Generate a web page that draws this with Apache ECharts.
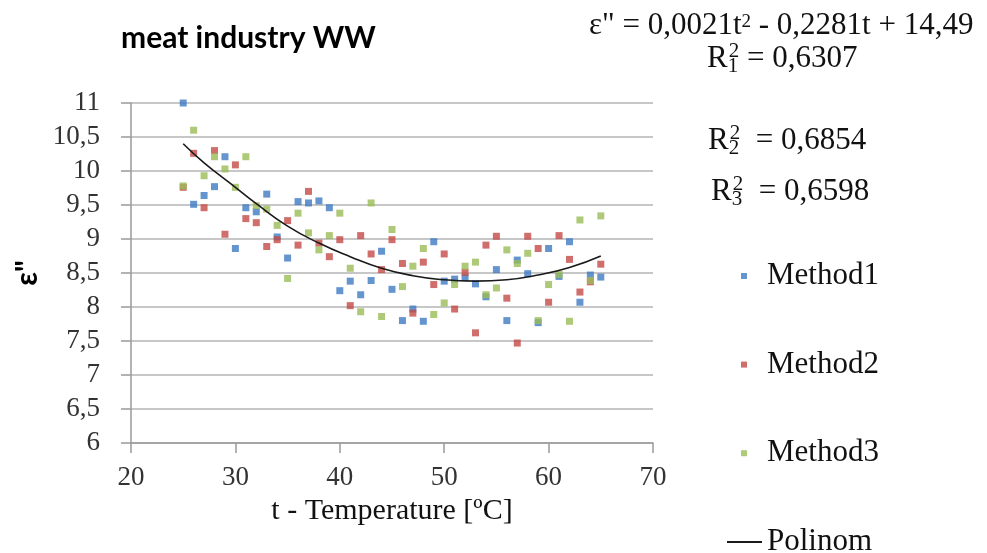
<!DOCTYPE html>
<html><head><meta charset="utf-8">
<script src="https://cdn.jsdelivr.net/npm/echarts@6/dist/echarts.min.js"></script>
<style>html,body{margin:0;padding:0;background:#fff}#c{width:987px;height:553px}</style>
</head><body><div id="c"></div>
<script>
const temperatures = [25,26,27,28,29,30,31,32,33,34,35,36,37,38,39,40,41,42,43,44,45,46,47,48,49,50,51,52,53,54,55,56,57,58,59,60,61,62,63,64,65];
const method1 = [11.0,9.51,9.64,9.77,10.21,8.86,9.46,9.40,9.66,9.03,8.72,9.55,9.53,9.56,9.46,8.24,8.38,8.18,8.39,8.82,8.26,7.80,7.97,7.79,8.96,8.38,8.41,8.43,8.34,8.15,8.55,7.80,8.69,8.49,7.77,8.86,8.45,8.96,8.07,8.47,8.44];
const method2 = [9.76,10.26,9.46,10.30,9.07,10.09,9.30,9.24,8.89,8.99,9.27,8.91,9.70,8.94,8.74,8.99,8.02,9.05,8.78,8.55,8.99,8.64,7.91,8.66,8.33,8.78,7.97,8.51,7.62,8.91,9.04,8.13,7.47,9.04,8.86,8.07,9.05,8.70,8.22,8.37,8.63];
const method3 = [9.78,10.60,9.93,10.21,10.03,9.76,10.21,9.49,9.44,9.20,8.42,9.38,9.09,8.84,9.05,9.38,8.57,7.93,9.53,7.86,9.14,8.30,8.60,8.86,7.89,8.06,8.33,8.60,8.66,8.18,8.28,8.84,8.64,8.79,7.80,8.33,8.48,7.79,9.28,8.39,9.34];
const polinomT = [25,27,30,32,35,38,41,44,47,50,53,56,59,62,65];
const polinomV = [10.40,10.12,9.76,9.52,9.19,8.94,8.74,8.57,8.46,8.40,8.38,8.40,8.47,8.58,8.75];
const seriesNames = ['Method1','Method2','Method3','Polinom'];
const xTicks = [20,30,40,50,60,70];
const yTicks = [6,6.5,7,7.5,8,8.5,9,9.5,10,10.5,11];

const SERIF = '"Liberation Serif", "DejaVu Serif", serif';
const SANS = 'Lato, "Open Sans", sans-serif';
const colors = ['#3F7AC2','#C44A47','#9ABC56'];

const pair = (xs, ys) => xs.map((x, i) => [x, ys[i]]);
const base = {fontFamily: SERIF, fontWeight: 'normal', color: '#111'};
const richBase = {
  n: Object.assign({}, base, {fontSize: 31, lineHeight: 38}),
  supE: Object.assign({}, base, {fontSize: 19, padding: [0,0,8,0]}),
  sup: Object.assign({}, base, {fontSize: 21, padding: [0,0,16,0]}),
  sub: Object.assign({}, base, {fontSize: 21, padding: [15,0,0,0], width: 1})
};
const eqStyle = {fontWeight: 'normal', rich: richBase};

const chart = echarts.init(document.getElementById('c'), null, {renderer: 'canvas'});
chart.setOption({
  animation: false,
  backgroundColor: '#fff',
  title: [
    {text: 'meat industry WW', left: 121, top: 23, padding: 0,
     textStyle: {fontFamily: SANS, fontWeight: 'bold', fontSize: 30, color: '#000'}},
    {text: '{n|ε" = 0,0021t}{supE|2}{n| - 0,2281t + 14,49}', left: 589, top: 7, padding: 0, textStyle: eqStyle},
    {text: '{n|R}{sub|1}{sup|2}{n| = 0,6307}', left: 707, top: 40, padding: 0, textStyle: eqStyle},
    {text: '{n|R}{sub|2}{sup|2}{n|  = 0,6854}', left: 708, top: 122, padding: 0, textStyle: eqStyle},
    {text: '{n|R}{sub|3}{sup|2}{n|  = 0,6598}', left: 711, top: 173, padding: 0, textStyle: eqStyle}
  ],
  legend: [
    {data: seriesNames.slice(0,3), orient: 'vertical', left: 741, top: 259, padding: 0,
     itemWidth: 6, itemHeight: 6, itemGap: 54.6, icon: 'rect',
     textStyle: {fontFamily: SERIF, fontSize: 31, lineHeight: 34, color: '#111', padding: [0,0,0,15]}},
    {data: [{name: seriesNames[3], icon: 'rect'}], orient: 'vertical', left: 727, top: 525, padding: 0,
     itemWidth: 35, itemHeight: 2, itemStyle: {color: '#1a1a1a'},
     textStyle: {fontFamily: SERIF, fontSize: 31, lineHeight: 34, color: '#111'}}
  ],
  grid: {left: 131, top: 103, width: 522, height: 340, outerBoundsMode: 'none', containLabel: false},
  xAxis: {
    type: 'value', min: xTicks[0], max: xTicks[xTicks.length-1], interval: 10,
    name: 't - Temperature [ºC]', nameLocation: 'middle', nameGap: 53,
    nameTextStyle: {fontFamily: SERIF, fontSize: 30, color: '#111'},
    axisLine: {show: true, lineStyle: {color: '#9a9a9a', width: 1.5}},
    axisTick: {show: true, inside: false, length: 10, lineStyle: {color: '#9a9a9a', width: 1.5}},
    axisLabel: {margin: 21, fontFamily: SERIF, fontSize: 27, color: '#333'},
    splitLine: {show: false}
  },
  yAxis: {
    type: 'value', min: yTicks[0], max: yTicks[yTicks.length-1], interval: 0.5,
    name: 'ε"', nameLocation: 'middle', nameGap: 86, nameRotate: 90,
    nameTextStyle: {fontFamily: SANS, fontWeight: 'bold', fontSize: 30, color: '#000'},
    axisLine: {show: true, lineStyle: {color: '#9a9a9a', width: 1.5}},
    axisTick: {show: true, inside: false, length: 10, lineStyle: {color: '#9a9a9a', width: 1.5}},
    axisLabel: {margin: 31, fontFamily: SERIF, fontSize: 27, color: '#333',
      formatter: v => String(v).replace('.', ',')},
    splitLine: {show: true, lineStyle: {color: '#b4b4b4', width: 1.5}}
  },
  series: [
    {name: seriesNames[0], type: 'scatter', symbol: 'rect', symbolSize: 7, data: pair(temperatures, method1), itemStyle: {color: colors[0]}},
    {name: seriesNames[1], type: 'scatter', symbol: 'rect', symbolSize: 7, data: pair(temperatures, method2), itemStyle: {color: colors[1]}},
    {name: seriesNames[2], type: 'scatter', symbol: 'rect', symbolSize: 7, data: pair(temperatures, method3), itemStyle: {color: colors[2]}},
    {name: seriesNames[3], type: 'line', smooth: true, symbol: 'none', showSymbol: false, z: 5,
     data: pair(polinomT, polinomV), lineStyle: {color: '#1a1a1a', width: 1.6}, itemStyle: {color: '#1a1a1a'}}
  ]
});
</script>
</body></html>
